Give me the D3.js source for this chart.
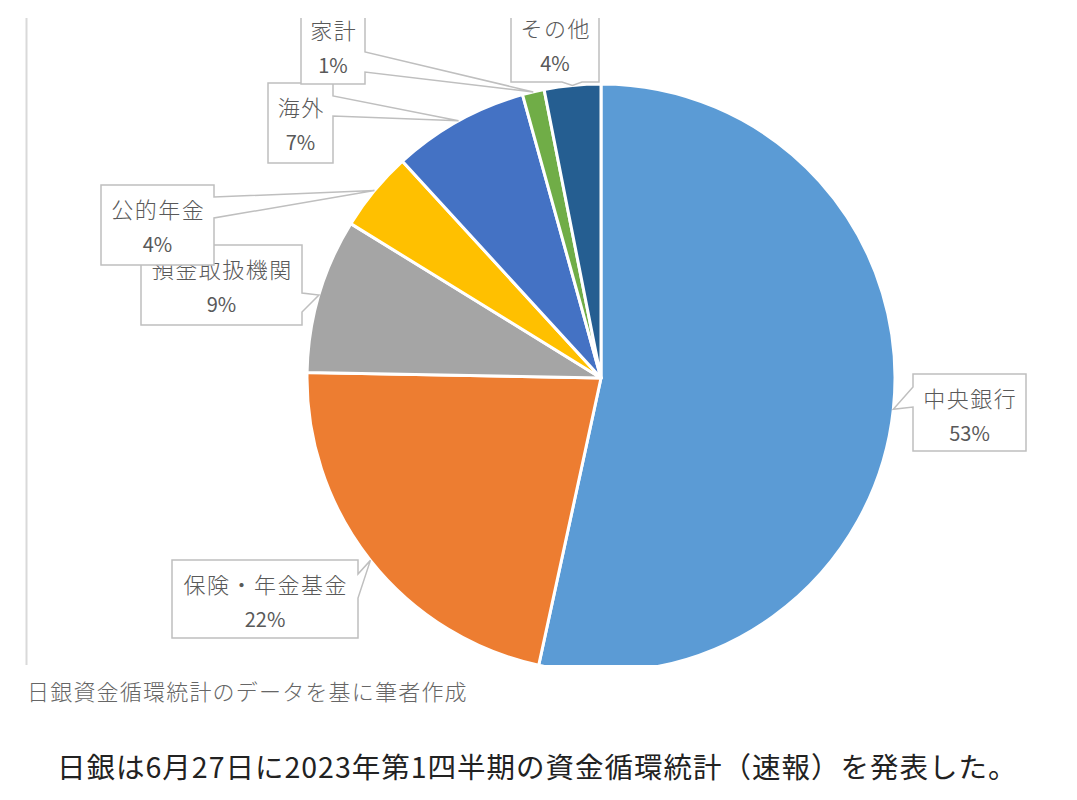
<!DOCTYPE html>
<html>
<head>
<meta charset="utf-8">
<script src="https://cdn.jsdelivr.net/npm/d3@7"></script>
<style>
  body { margin: 0; background: #fff; }
  text { font-family: "Noto Sans CJK JP", "Noto Sans", sans-serif; }
</style>
</head>
<body>
<div id="chart"></div>
<script>
// holders of JGBs, share of total
var categories = ["中央銀行", "保険・年金基金", "預金取扱機関", "公的年金", "海外", "家計", "その他"];
var shares = [53.4, 21.9, 8.5, 4.4, 7.5, 1.2, 3.1];
var pctLabels = ["53%", "22%", "9%", "4%", "7%", "1%", "4%"];
var colors = ["#5B9BD5", "#ED7D31", "#A5A5A5", "#FFC000", "#4472C4", "#70AD47", "#255E91"];

var width = 1077,
	height = 800,
	cx = 601,
	cy = 378,
	radius = 294;

// callout boxes: box + side of the wedge and where its base sits on that side
var callouts = [
	{x: 913, y: 374, w: 113, h: 77, side: "left", b1: 387, b2: 407},
	{x: 172, y: 560, w: 186, h: 78, side: "right", b1: 574, b2: 598},
	{x: 141, y: 245, w: 161, h: 80, side: "right", b1: 293, b2: 312},
	{x: 101, y: 185, w: 113, h: 80, side: "right", b1: 197, b2: 218},
	{x: 268, y: 83, w: 65, h: 80, side: "right", b1: 96, b2: 116},
	{x: 301, y: 6, w: 64, h: 78, side: "right", b1: 52, b2: 72},
	{x: 511, y: 4, w: 88, h: 78, side: "bottom", b1: 562, b2: 582}
];

function calloutPath(c, tip) {
	var x = c.x, y = c.y, r = c.x + c.w, b = c.y + c.h;
	var t = tip[0] + "," + tip[1];
	if (c.side == "left") {
		return "M" + x + "," + y + "H" + r + "V" + b + "H" + x + "V" + c.b2 + "L" + t + "L" + x + "," + c.b1 + "Z";
	}
	if (c.side == "right") {
		return "M" + x + "," + y + "H" + r + "V" + c.b1 + "L" + t + "L" + r + "," + c.b2 + "V" + b + "H" + x + "Z";
	}
	return "M" + x + "," + y + "H" + r + "V" + b + "H" + c.b2 + "L" + t + "L" + c.b1 + "," + b + "H" + x + "Z";
}

var svg = d3.select("#chart").append("svg")
	.attr("width", width)
	.attr("height", height);

svg.append("clipPath").attr("id", "clip")
	.append("rect")
	.attr("x", 26).attr("y", 18)
	.attr("width", width - 26).attr("height", 647);

// left border of the pasted chart image
svg.append("line")
	.attr("x1", 26.5).attr("x2", 26.5)
	.attr("y1", 18).attr("y2", 665)
	.attr("stroke", "#d9d9d9")
	.attr("stroke-width", 2);

var chart = svg.append("g").attr("clip-path", "url(#clip)");

var pie = d3.pie().sort(null).value(function(d) { return d; });
var arcs = pie(shares);

var arc = d3.arc().innerRadius(0).outerRadius(radius);
var edge = d3.arc().innerRadius(radius).outerRadius(radius);

var g = chart.append("g").attr("transform", "translate(" + cx + "," + cy + ")");

g.selectAll("path.slice")
	.data(arcs)
	.enter().append("path")
	.attr("class", "slice")
	.attr("d", arc)
	.attr("fill", function(d, i) { return colors[i]; })
	.attr("stroke", "#fff")
	.attr("stroke-width", 3)
	.attr("stroke-linejoin", "round");

// callouts, drawn in slice order so later ones sit on top
var labels = chart.selectAll("g.callout")
	.data(arcs)
	.enter().append("g")
	.attr("class", "callout");

labels.append("path")
	.attr("d", function(d, i) {
		var p = edge.centroid(d);
		return calloutPath(callouts[i], [cx + p[0], cy + p[1]]);
	})
	.attr("fill", "#fff")
	.attr("stroke", "#bfbfbf")
	.attr("stroke-width", 1.5);

labels.append("text")
	.text(function(d, i) { return categories[i]; })
	.attr("x", function(d, i) { return callouts[i].x + callouts[i].w / 2 + 0.75; })
	.attr("y", function(d, i) { return callouts[i].y + 33; })
	.attr("text-anchor", "middle")
	.attr("font-size", 22)
	.attr("font-weight", 300)
	.attr("letter-spacing", 1.5)
	.attr("fill", "#595959");

labels.append("text")
	.text(function(d, i) { return pctLabels[i]; })
	.attr("x", function(d, i) { return callouts[i].x + callouts[i].w / 2; })
	.attr("y", function(d, i) { return callouts[i].y + 67; })
	.attr("text-anchor", "middle")
	.attr("font-size", 20)
	.attr("fill", "#595959");

svg.append("text")
	.text("日銀資金循環統計のデータを基に筆者作成")
	.attr("x", 27)
	.attr("y", 700)
	.attr("font-size", 22)
	.attr("font-weight", 300)
	.attr("letter-spacing", 1.2)
	.attr("fill", "#666");

svg.append("text")
	.text("日銀は6月27日に2023年第1四半期の資金循環統計（速報）を発表した。")
	.attr("x", 57)
	.attr("y", 778)
	.attr("font-size", 28.5)
	.attr("letter-spacing", 1)
	.attr("fill", "#222");
</script>
</body>
</html>
